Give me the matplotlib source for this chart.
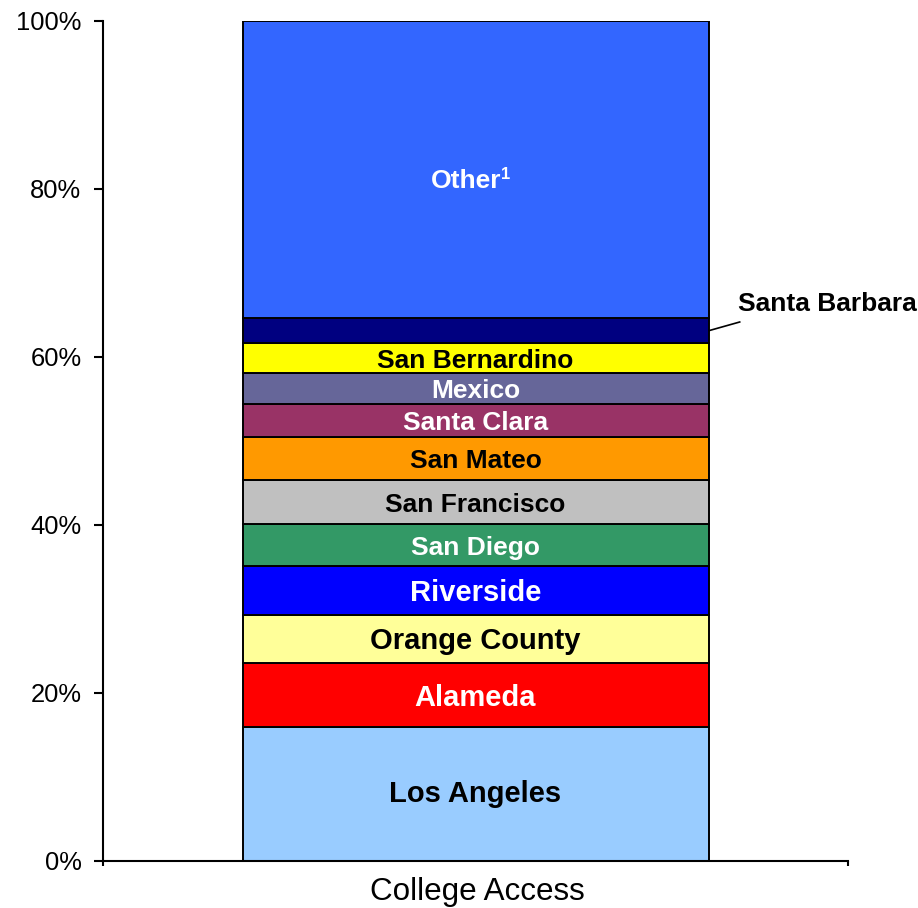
import matplotlib
matplotlib.use("Agg")
import matplotlib.pyplot as plt
import numpy as np

plt.rcParams['font.family'] = ['Liberation Sans', 'DejaVu Sans']

category = "College Access"
regions = ["Los Angeles", "Alameda", "Orange County", "Riverside", "San Diego",
           "San Francisco", "San Mateo", "Santa Clara", "Mexico",
           "San Bernardino", "Santa Barbara", "Other"]
shares = [15.9, 7.7, 5.7, 5.8, 5.0, 5.2, 5.1, 4.0, 3.7, 3.5, 3.0, 35.4]
colors = ["#99CCFF", "#FF0000", "#FFFF99", "#0000FF", "#339966", "#C0C0C0",
          "#FF9900", "#993366", "#666699", "#FFFF00", "#000080", "#3366FF"]
text_colors = ["black", "white", "black", "white", "white", "black",
               "black", "white", "white", "black", None, "white"]
label_sizes = [21, 21, 21, 21, 19, 19, 19, 19, 19, 19, 19, 19]
footnote = "1"

W, H = 918, 908
fig = plt.figure(figsize=(W / 100, H / 100), dpi=100)
ax_px = (103, 47, 745, 840.3)  # left, bottom, width, height in pixels
ax = fig.add_axes([ax_px[0] / W, ax_px[1] / H, ax_px[2] / W, ax_px[3] / H])
px_x = 1 / ax_px[2]   # one pixel in x data units (xlim spans 1)
px_y = 1 / ax_px[3]   # one pixel in y data units (ylim spans 1)

vals = np.array(shares) / 100.0
bottoms = np.concatenate([[0], np.cumsum(vals)[:-1]])
bar_w = 466 * px_x

for i, (name, v, b, c, tc, fs) in enumerate(zip(regions, vals, bottoms, colors,
                                                 text_colors, label_sizes)):
    ax.bar(0, v, bottom=b, width=bar_w, color=c, edgecolor="black", linewidth=1.4)
    if tc is None:
        continue
    if name == "Other":
        t = ax.text(-9 * px_x, b + v * 0.46, name, ha="center", va="center",
                    color=tc, fontsize=fs, fontweight="bold")
        ax.annotate(footnote, xy=(1, 1), xycoords=t, xytext=(-0.5, 1.5),
                    textcoords="offset points", ha="left", va="top",
                    color=tc, fontsize=12, fontweight="bold")
    else:
        shift = 0 if i == 0 else 2.5
        ax.text(0, b + v / 2 - shift * px_y, name, ha="center", va="center",
                color=tc, fontsize=fs, fontweight="bold")

# Santa Barbara is too thin for an inside label: use a leader line
sb = regions.index("Santa Barbara")
sb_mid = bottoms[sb] + vals[sb] / 2
x0 = bar_w / 2
ax.plot([x0, x0 + 32 * px_x], [sb_mid, sb_mid + 9 * px_y], color="black",
        lw=1.2, clip_on=False, solid_capstyle="butt")
ax.text(x0 + 29 * px_x, sb_mid + 27 * px_y, regions[sb], ha="left", va="center",
        fontsize=19, fontweight="bold", clip_on=False)

ax.set_xlim(-0.5, 0.5)
ax.set_ylim(0, 1)
yt = np.arange(0, 1.01, 0.2)
ax.set_yticks(yt)
ax.set_yticklabels([f"{int(round(t * 100))}%" for t in yt])
ax.set_xticks([-0.5, 0.5])
ax.set_xticklabels(["", ""])
ax.text(2 * px_x, -16 * px_y, category, ha="center", va="top", fontsize=22.6)

ax.tick_params(axis="y", direction="out", length=6.5, width=1.5, labelsize=18.4, pad=9)
ax.tick_params(axis="x", direction="out", length=3.6, width=1.5)
for s in ["top", "right"]:
    ax.spines[s].set_visible(False)
for s in ["left", "bottom"]:
    ax.spines[s].set_linewidth(1.5)

fig.savefig("out.png", dpi=100)
